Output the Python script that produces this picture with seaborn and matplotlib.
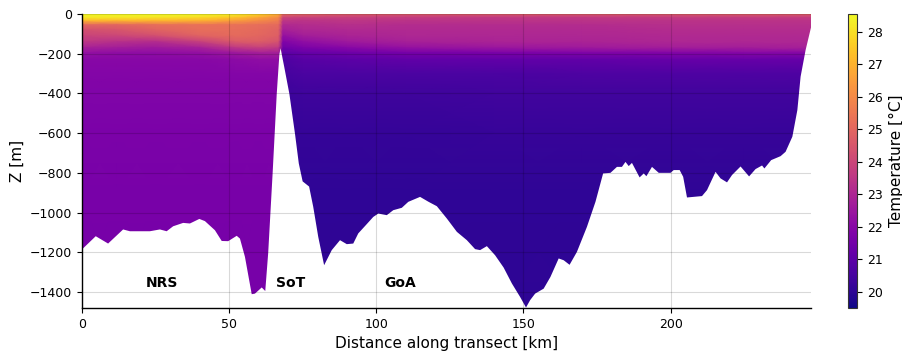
import numpy as np
import matplotlib
matplotlib.use("Agg")
import matplotlib.pyplot as plt
import seaborn as sns

# Station positions along the transect [km] and sampling depths [m]
station_km = [0, 12, 25, 40, 52, 60, 66.8, 68.3, 75, 90, 110, 140, 170, 200, 225, 248]
depth_m = [0, 8, 20, 35, 55, 80, 110, 140, 170, 195, 230, 300, 400, 600, 900, 1500]

# Temperature [°C], one row per depth level, one column per station
temp_0 = [28.5, 28.5, 28.5, 28.4, 28.2, 27.8, 27.0, 25.4, 25.2, 25.0, 25.0, 25.0, 25.0, 25.0, 25.0, 25.0]
temp_8 = [28.4, 28.4, 28.4, 28.3, 28.0, 27.4, 26.5, 24.6, 24.5, 24.3, 24.2, 24.2, 24.2, 24.2, 24.3, 24.3]
temp_20 = [28.1, 28.1, 28.0, 27.8, 27.3, 26.6, 25.9, 23.9, 23.8, 23.8, 23.7, 23.6, 23.6, 23.7, 23.7, 23.7]
temp_35 = [27.0, 27.0, 27.0, 26.9, 26.4, 26.0, 25.6, 23.5, 23.4, 23.5, 23.4, 23.4, 23.4, 23.4, 23.4, 23.4]
temp_55 = [25.0, 25.0, 25.2, 25.3, 25.3, 25.2, 25.1, 23.1, 23.2, 23.3, 23.2, 23.2, 23.2, 23.3, 23.3, 23.3]
temp_80 = [24.3, 24.5, 24.9, 25.2, 25.2, 25.1, 24.9, 22.8, 23.0, 23.1, 23.1, 23.1, 23.1, 23.2, 23.2, 23.2]
temp_110 = [23.9, 24.0, 24.3, 24.9, 25.1, 25.0, 24.8, 22.3, 22.7, 22.9, 23.0, 23.0, 23.0, 23.1, 23.1, 23.1]
temp_140 = [23.5, 23.3, 23.2, 23.8, 24.6, 24.7, 24.4, 21.8, 22.2, 22.6, 22.8, 22.9, 22.9, 23.0, 23.0, 23.0]
temp_170 = [22.8, 22.7, 22.6, 22.8, 23.5, 23.8, 23.6, 21.4, 21.7, 22.0, 22.3, 22.5, 22.6, 22.7, 22.7, 22.8]
temp_195 = [22.3, 22.2, 22.2, 22.3, 22.6, 22.8, 22.8, 21.0, 21.2, 21.4, 21.6, 21.7, 21.8, 21.9, 22.0, 22.0]
temp_230 = [22.0, 22.0, 22.0, 22.0, 22.1, 22.2, 22.2, 20.7, 20.9, 21.0, 21.1, 21.1, 21.1, 21.2, 21.2, 21.2]
temp_300 = [21.9, 21.9, 21.9, 21.9, 21.9, 21.9, 21.9, 20.5, 20.6, 20.6, 20.6, 20.6, 20.7, 20.7, 20.7, 20.7]
temp_400 = [21.8, 21.8, 21.8, 21.8, 21.8, 21.8, 21.8, 20.3, 20.35, 20.35, 20.35, 20.4, 20.4, 20.4, 20.4, 20.4]
temp_600 = [21.7, 21.7, 21.7, 21.7, 21.7, 21.7, 21.7, 20.15, 20.15, 20.15, 20.15, 20.2, 20.2, 20.2, 20.2, 20.2]
temp_900 = [21.65, 21.65, 21.65, 21.65, 21.65, 21.65, 21.65, 20.05, 20.05, 20.05, 20.05, 20.05, 20.05, 20.05, 20.05, 20.05]
temp_1500 = [21.6, 21.6, 21.6, 21.6, 21.6, 21.6, 21.6, 20.0, 20.0, 20.0, 20.0, 20.0, 20.0, 20.0, 20.0, 20.0]

# Seafloor along the transect
bathy_km = [0, 4.5, 8.7, 13.8, 16.1, 22.9, 26.3, 28.6, 30.8, 34.2, 36.5, 39.7, 41.6, 45.0,
            47.3, 49.5, 52.4, 53.5, 55.2, 57.5, 58.6, 60.9, 62.1, 63.1, 64.6, 66.0, 66.9,
            67.3, 68.5, 70.3, 72.2, 73.5, 74.8, 77.0, 78.4, 80.1, 82.1, 84.7, 87.5, 89.8,
            92.0, 93.7, 96.6, 98.8, 100.5, 103.4, 105.6, 108.5, 110.7, 114.7, 117.6, 120.4,
            123.8, 127.2, 130.6, 133.4, 135.1, 137.4, 140.2, 143.1, 145.9, 148.7, 150.7,
            152.1, 153.8, 156.7, 159.0, 161.8, 163.5, 165.5, 168.0, 171.4, 174.3, 176.9,
            179.4, 181.6, 183.3, 184.5, 185.6, 186.7, 189.3, 190.7, 191.6, 193.5, 195.8,
            199.8, 200.9, 202.9, 204.1, 205.4, 210.5, 212.2, 215.1, 216.8, 219.0, 220.7,
            223.6, 226.5, 228.7, 230.9, 231.7, 234.0, 237.2, 238.9, 241.2, 242.9, 244.0,
            245.7, 247.7]
bathy_z = [-1180, -1116, -1153, -1082, -1091, -1091, -1082, -1091, -1066, -1049, -1052, -1029,
           -1040, -1086, -1140, -1141, -1114, -1128, -1220, -1408, -1405, -1374, -1392, -1200,
           -800, -400, -200, -170, -260, -400, -600, -750, -840, -866, -968, -1119, -1262,
           -1186, -1136, -1156, -1153, -1102, -1055, -1019, -1002, -1010, -985, -973, -943,
           -918, -943, -965, -1027, -1094, -1136, -1181, -1186, -1166, -1212, -1274, -1354,
           -1422, -1475, -1438, -1405, -1380, -1321, -1228, -1237, -1260, -1195, -1069, -943,
           -800, -797, -767, -767, -742, -763, -747, -820, -800, -814, -767, -797, -797, -783,
           -783, -817, -921, -914, -884, -792, -825, -845, -808, -765, -815, -778, -760, -775,
           -733, -713, -691, -615, -481, -313, -179, -55]

region_names = ["NRS", "SoT", "GoA"]
region_km = [27.3, 71.0, 108.0]
region_z = [-1355, -1355, -1355]

temp = np.array([temp_0, temp_8, temp_20, temp_35, temp_55, temp_80, temp_110, temp_140,
                 temp_170, temp_195, temp_230, temp_300, temp_400, temp_600, temp_900, temp_1500])

sns.set_style("ticks")
plt.rcParams["font.family"] = ["DejaVu Sans"]
plt.rcParams["text.color"] = "black"
plt.rcParams["axes.labelcolor"] = "black"
plt.rcParams["xtick.color"] = "black"
plt.rcParams["ytick.color"] = "black"

fig = plt.figure(figsize=(9.03, 3.56), dpi=100)
ax = fig.add_axes([0.0908, 0.1348, 0.8073, 0.8258])
cax = fig.add_axes([0.939, 0.1348, 0.0105, 0.8258])

cmap = sns.color_palette("plasma", as_cmap=True)
mesh = ax.pcolormesh(station_km, -np.array(depth_m), temp, cmap=cmap,
                     vmin=19.5, vmax=28.55, shading="gouraud", rasterized=True, zorder=1)

# mask everything below the seafloor
ax.fill_between(bathy_km, bathy_z, -1700, color="white", lw=0, zorder=2)

for name, xk, zk in zip(region_names, region_km, region_z):
    ax.text(xk, zk, name, ha="center", va="center", fontsize=10, fontweight="bold",
            color="black", zorder=4)

ax.set_xlim(0, 247.7)
ax.set_ylim(-1480, 0)
ax.set_xticks([0, 50, 100, 150, 200])
ax.set_yticks(np.arange(-1400, 1, 200))
ax.set_axisbelow(False)
ax.grid(True, color="black", alpha=0.15, lw=0.8)
ax.tick_params(labelsize=9, length=3.5, width=0.8, colors="black")
ax.set_xlabel("Distance along transect [km]", fontsize=11)
ax.set_ylabel("Z [m]", fontsize=11)
sns.despine(ax=ax)
for s in ["left", "bottom"]:
    ax.spines[s].set_color("black")
    ax.spines[s].set_linewidth(1.0)

cb = fig.colorbar(mesh, cax=cax)
cb.set_ticks(range(20, 29))
cb.set_label("Temperature [°C]", fontsize=11)
cb.ax.tick_params(labelsize=9, length=3.5, width=0.8, colors="black")
cb.outline.set_linewidth(0.8)
cb.outline.set_edgecolor("#333333")

fig.savefig("out.png", dpi=100)
